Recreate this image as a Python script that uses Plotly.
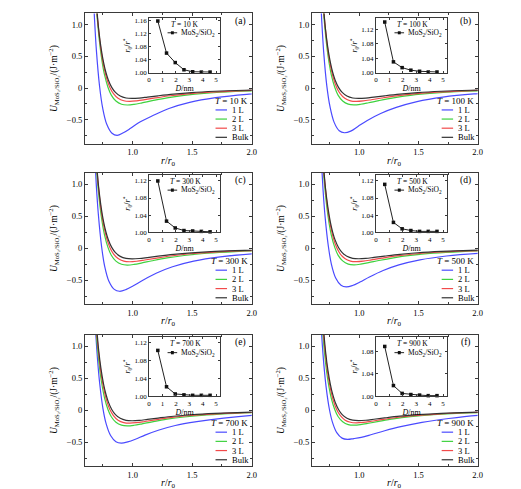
import plotly.graph_objects as go

W, H = 521, 489
FONT = "Liberation Serif"

TEMPS = [10, 100, 300, 500, 700, 900]
PANEL_LABELS = ["(a)", "(b)", "(c)", "(d)", "(e)", "(f)"]
LAYER_NAMES = ["1 L", "2 L", "3 L", "Bulk"]
LAYER_COLORS = ["#4a4aff", "#3fd23f", "#f24a4a", "#333333"]

# ---- main curves: U (J/m^2) versus r/r0 ----
X_1L = [
    [0.644, 0.661, 0.679, 0.696, 0.722, 0.748, 0.783, 0.827, 0.870, 0.922, 0.983, 1.061, 1.175, 1.305, 1.479, 1.697, 1.958, 2.262],
    [0.648, 0.665, 0.683, 0.700, 0.726, 0.753, 0.788, 0.831, 0.875, 0.928, 0.989, 1.068, 1.181, 1.313, 1.488, 1.706, 1.969, 2.275],
    [0.659, 0.676, 0.694, 0.712, 0.739, 0.765, 0.801, 0.846, 0.890, 0.943, 1.006, 1.086, 1.202, 1.335, 1.513, 1.736, 2.003, 2.314],
    [0.659, 0.676, 0.694, 0.712, 0.739, 0.765, 0.801, 0.846, 0.890, 0.943, 1.006, 1.086, 1.202, 1.335, 1.513, 1.736, 2.003, 2.314],
    [0.670, 0.688, 0.706, 0.724, 0.751, 0.778, 0.815, 0.860, 0.905, 0.959, 1.023, 1.104, 1.222, 1.358, 1.539, 1.765, 2.036, 2.353],
    [0.666, 0.684, 0.702, 0.720, 0.747, 0.774, 0.810, 0.855, 0.900, 0.954, 1.017, 1.098, 1.215, 1.350, 1.530, 1.755, 2.025, 2.340],
]
Y_1L = [
    [2.838, 1.855, 1.131, 0.593, 0.038, -0.309, -0.571, -0.712, -0.745, -0.705, -0.635, -0.535, -0.429, -0.321, -0.224, -0.150, -0.098, -0.063],
    [2.686, 1.755, 1.070, 0.561, 0.036, -0.293, -0.541, -0.674, -0.705, -0.679, -0.605, -0.510, -0.400, -0.304, -0.212, -0.142, -0.092, -0.060],
    [2.572, 1.681, 1.025, 0.537, 0.034, -0.280, -0.518, -0.645, -0.675, -0.650, -0.589, -0.502, -0.389, -0.291, -0.203, -0.136, -0.088, -0.057],
    [2.313, 1.511, 0.921, 0.483, 0.031, -0.252, -0.466, -0.580, -0.607, -0.585, -0.530, -0.451, -0.350, -0.262, -0.183, -0.122, -0.080, -0.052],
    [1.966, 1.285, 0.783, 0.411, 0.026, -0.214, -0.396, -0.493, -0.516, -0.497, -0.455, -0.390, -0.310, -0.240, -0.180, -0.125, -0.078, -0.050],
    [1.745, 1.140, 0.695, 0.365, 0.023, -0.190, -0.351, -0.438, -0.458, -0.445, -0.425, -0.385, -0.322, -0.258, -0.190, -0.130, -0.078, -0.050],
]
X_2L = [0.669, 0.688, 0.707, 0.726, 0.745, 0.764, 0.793, 0.821, 0.860, 0.907, 0.955, 1.012, 1.079, 1.165, 1.289, 1.433, 1.624, 1.862, 2.149, 2.483]
Y_2L = [
    [2.133, 1.490, 1.013, 0.662, 0.404, 0.212, 0.014, -0.110, -0.204, -0.254, -0.266, -0.256, -0.232, -0.198, -0.153, -0.115, -0.080, -0.053, -0.035, -0.023],
    [2.125, 1.484, 1.010, 0.660, 0.402, 0.211, 0.014, -0.110, -0.203, -0.253, -0.265, -0.255, -0.231, -0.197, -0.153, -0.114, -0.080, -0.053, -0.035, -0.023],
    [2.117, 1.478, 1.006, 0.657, 0.401, 0.210, 0.013, -0.110, -0.202, -0.252, -0.264, -0.254, -0.230, -0.196, -0.152, -0.114, -0.079, -0.053, -0.035, -0.022],
    [2.085, 1.456, 0.991, 0.647, 0.395, 0.207, 0.013, -0.108, -0.199, -0.249, -0.260, -0.250, -0.227, -0.193, -0.150, -0.112, -0.078, -0.052, -0.034, -0.022],
    [1.965, 1.372, 0.933, 0.610, 0.372, 0.195, 0.012, -0.102, -0.188, -0.234, -0.245, -0.236, -0.214, -0.182, -0.141, -0.106, -0.074, -0.049, -0.032, -0.021],
    [1.885, 1.316, 0.895, 0.585, 0.357, 0.187, 0.012, -0.098, -0.180, -0.225, -0.235, -0.226, -0.205, -0.175, -0.135, -0.101, -0.071, -0.047, -0.031, -0.020],
]
X_3L = [0.683, 0.702, 0.722, 0.741, 0.761, 0.780, 0.809, 0.839, 0.878, 0.926, 0.975, 1.034, 1.102, 1.190, 1.316, 1.463, 1.658, 1.901, 2.194, 2.535]
Y_3L = [
    [1.668, 1.165, 0.792, 0.518, 0.316, 0.166, 0.011, -0.086, -0.160, -0.199, -0.208, -0.200, -0.182, -0.155, -0.120, -0.090, -0.063, -0.042, -0.027, -0.018],
    [1.684, 1.176, 0.800, 0.523, 0.319, 0.167, 0.011, -0.087, -0.161, -0.201, -0.210, -0.202, -0.183, -0.156, -0.121, -0.091, -0.063, -0.042, -0.028, -0.018],
    [1.700, 1.187, 0.808, 0.528, 0.322, 0.169, 0.011, -0.088, -0.163, -0.203, -0.212, -0.204, -0.185, -0.158, -0.122, -0.091, -0.064, -0.043, -0.028, -0.018],
    [1.684, 1.176, 0.800, 0.523, 0.319, 0.167, 0.011, -0.087, -0.161, -0.201, -0.210, -0.202, -0.183, -0.156, -0.121, -0.091, -0.063, -0.042, -0.028, -0.018],
    [1.628, 1.137, 0.773, 0.505, 0.308, 0.162, 0.010, -0.084, -0.156, -0.194, -0.203, -0.195, -0.177, -0.151, -0.117, -0.087, -0.061, -0.041, -0.027, -0.017],
    [1.588, 1.109, 0.754, 0.493, 0.301, 0.158, 0.010, -0.082, -0.152, -0.189, -0.198, -0.191, -0.173, -0.147, -0.114, -0.085, -0.060, -0.040, -0.026, -0.017],
]
X_BULK = [0.697, 0.716, 0.736, 0.756, 0.776, 0.796, 0.826, 0.856, 0.896, 0.945, 0.995, 1.055, 1.124, 1.214, 1.343, 1.493, 1.692, 1.940, 2.239, 2.587]
Y_BULK = [
    [1.307, 0.913, 0.621, 0.406, 0.247, 0.130, 0.008, -0.068, -0.125, -0.156, -0.163, -0.157, -0.142, -0.121, -0.094, -0.070, -0.049, -0.033, -0.021, -0.014],
    [1.307, 0.913, 0.621, 0.406, 0.247, 0.130, 0.008, -0.068, -0.125, -0.156, -0.163, -0.157, -0.142, -0.121, -0.094, -0.070, -0.049, -0.033, -0.021, -0.014],
    [1.339, 0.935, 0.636, 0.416, 0.254, 0.133, 0.009, -0.069, -0.128, -0.160, -0.167, -0.161, -0.146, -0.124, -0.096, -0.072, -0.050, -0.034, -0.022, -0.014],
    [1.323, 0.924, 0.629, 0.411, 0.250, 0.131, 0.008, -0.068, -0.127, -0.158, -0.165, -0.159, -0.144, -0.123, -0.095, -0.071, -0.050, -0.033, -0.022, -0.014],
    [1.323, 0.924, 0.629, 0.411, 0.250, 0.131, 0.008, -0.068, -0.127, -0.158, -0.165, -0.159, -0.144, -0.123, -0.095, -0.071, -0.050, -0.033, -0.022, -0.014],
    [1.307, 0.913, 0.621, 0.406, 0.247, 0.130, 0.008, -0.068, -0.125, -0.156, -0.163, -0.157, -0.142, -0.121, -0.094, -0.070, -0.049, -0.033, -0.021, -0.014],
]

# ---- insets: r0/r* versus D (nm) ----
D_NM = [0.65, 1.30, 1.95, 2.60, 3.25, 3.90, 4.55]
R_RATIO = [
    [1.158, 1.060, 1.031, 1.009, 1.003, 1.002, 1.002],
    [1.140, 1.030, 1.014, 1.007, 1.004, 1.002, 1.002],
    [1.120, 1.026, 1.010, 1.004, 1.003, 1.002, 1.001],
    [1.112, 1.023, 1.008, 1.004, 1.002, 1.002, 1.002],
    [1.102, 1.021, 1.005, 1.003, 1.002, 1.002, 1.002],
    [1.089, 1.019, 1.005, 1.003, 1.002, 1.001, 1.001],
]
INSET_YMAX = [1.166, 1.150, 1.134, 1.134, 1.132, 1.106]
INSET_YTICKS = [
    [1.00, 1.04, 1.08, 1.12, 1.16],
    [1.00, 1.04, 1.08, 1.12],
    [1.00, 1.04, 1.08, 1.12],
    [1.00, 1.04, 1.08, 1.12],
    [1.00, 1.04, 1.08, 1.12],
    [1.00, 1.04, 1.08],
]
MAIN_XTICKS = [1.0, 1.5, 2.0]
MAIN_XTEXT = ["1.0", "1.5", "2.0"]
MAIN_YTICKS = [-0.5, 0.0, 0.5, 1.0]
MAIN_YTEXT = ["\u22120.5", "0", "0.5", "1.0"]
INSET_XTICKS = [0, 1, 2, 3, 4, 5]

X_TITLE = "<i>r</i>/<i>r</i><sub>0</sub>"
Y_TITLE = "<i>U</i><sub>MoS\u2082/SiO\u2082</sub>/(J\u00b7m<sup>\u22122</sup>)"

# ---- layout geometry (pixels) ----
COL_X = [(76, 245), (306, 474)]
ROW_Y = [(3.5, 135.5), (165, 298), (329, 462)]
INSET_X = [(141, 213), (371, 443)]
INSET_Y = [(8.5, 63.5), (167, 225), (331, 391)]

def xdom(a, b):
    return [a / W, b / W]

def ydom(a, b):
    return [1 - b / H, 1 - a / H]

fig = go.Figure()
layout = dict(
    width=W, height=H, margin=dict(l=0, r=0, t=0, b=0),
    paper_bgcolor="white", plot_bgcolor="white", showlegend=False,
    font=dict(family=FONT, color="black", size=9),
)
annotations = []
shapes = []
AX_LINE = "#3a3a3a"

for p in range(6):
    row, col = divmod(p, 2)
    mi = 2 * p + 1
    ii = 2 * p + 2
    mx = "x" if mi == 1 else f"x{mi}"
    my = "y" if mi == 1 else f"y{mi}"
    ix, iy = f"x{ii}", f"y{ii}"
    mxa = "xaxis" if mi == 1 else f"xaxis{mi}"
    mya = "yaxis" if mi == 1 else f"yaxis{mi}"

    layout[mxa] = dict(
        domain=xdom(*COL_X[col]), anchor=my, range=[0.6, 2.0],
        tickmode="array", tickvals=MAIN_XTICKS, ticktext=MAIN_XTEXT,
        ticks="inside", ticklen=3, tickcolor=AX_LINE,
        minor=dict(tick0=0, dtick=0.25, ticks="inside", ticklen=2, tickcolor=AX_LINE),
        showline=True, mirror="ticks", linecolor=AX_LINE, linewidth=1,
        showgrid=False, zeroline=False, tickfont=dict(size=8.5),
    )
    layout[mya] = dict(
        domain=ydom(*ROW_Y[row]), anchor=mx, range=[-0.88, 1.18],
        tickmode="array", tickvals=MAIN_YTICKS, ticktext=MAIN_YTEXT,
        ticks="inside", ticklen=3, tickcolor=AX_LINE,
        minor=dict(tick0=0, dtick=0.25, ticks="inside", ticklen=2, tickcolor=AX_LINE),
        showline=True, mirror="ticks", linecolor=AX_LINE, linewidth=1,
        showgrid=False, zeroline=False, tickfont=dict(size=8.5),
    )
    layout[f"xaxis{ii}"] = dict(
        domain=xdom(*INSET_X[col]), anchor=iy, range=[0, 5.3],
        tickmode="array", tickvals=INSET_XTICKS,
        ticks="inside", ticklen=2, tickcolor=AX_LINE,
        showline=True, mirror="ticks", linecolor=AX_LINE, linewidth=1,
        showgrid=False, zeroline=False, tickfont=dict(size=7),
        title=dict(text="<i>D</i>/nm", font=dict(size=8), standoff=0),
    )
    layout[f"yaxis{ii}"] = dict(
        domain=ydom(*INSET_Y[row]), anchor=ix, range=[1.0, INSET_YMAX[p]],
        tickmode="array", tickvals=INSET_YTICKS[p],
        ticktext=[f"{v:.2f}" for v in INSET_YTICKS[p]],
        ticks="inside", ticklen=2, tickcolor=AX_LINE,
        showline=True, mirror="ticks", linecolor=AX_LINE, linewidth=1,
        showgrid=False, zeroline=False, tickfont=dict(size=7),
        title=dict(text="<i>r</i><sub>0</sub>/<i>r</i><sup>*</sup>", font=dict(size=8), standoff=2),
    )

    series = [
        (X_1L[p], Y_1L[p]),
        (X_2L, Y_2L[p]),
        (X_3L, Y_3L[p]),
        (X_BULK, Y_BULK[p]),
    ]
    for k, (xs, ys) in enumerate(series):
        fig.add_trace(go.Scatter(
            x=xs, y=ys, mode="lines", xaxis=mx, yaxis=my,
            line=dict(color=LAYER_COLORS[k], width=1.2, shape="spline", smoothing=1.0),
            name=LAYER_NAMES[k], hoverinfo="skip",
        ))
    fig.add_trace(go.Scatter(
        x=D_NM, y=R_RATIO[p], mode="lines+markers", xaxis=ix, yaxis=iy,
        line=dict(color="#222222", width=1),
        marker=dict(symbol="square", size=3.5, color="#111111"),
        cliponaxis=False, name="MoS2/SiO2", hoverinfo="skip",
    ))

    mxd, myd = f"{mx} domain", f"{my} domain"
    ixd, iyd = f"{ix} domain", f"{iy} domain"
    row_h = ROW_Y[row][1] - ROW_Y[row][0]

    # axis titles of the main panels
    annotations.append(dict(xref=mxd, yref=myd, x=0.5, y=-17.5 / row_h, xanchor="center", yanchor="middle",
                            text=X_TITLE, showarrow=False, font=dict(size=10)))
    annotations.append(dict(xref="paper", yref=myd, x=(COL_X[col][0] - 32) / W, y=0.5,
                            xanchor="center", yanchor="middle", textangle=-90,
                            text=Y_TITLE, showarrow=False, font=dict(size=9.5)))
    # panel label
    annotations.append(dict(xref=mxd, yref=myd, x=0.975, y=0.94, xanchor="right", yanchor="middle",
                            text=PANEL_LABELS[p], showarrow=False, font=dict(size=9.5)))
    # main legend
    annotations.append(dict(xref=mxd, yref=myd, x=0.99, y=0.33, xanchor="right", yanchor="middle",
                            text=f"<i>T</i> = {TEMPS[p]} K", showarrow=False, font=dict(size=9)))
    leg_y = [0.26, 0.19, 0.12, 0.05]
    for k in range(4):
        shapes.append(dict(type="line", xref=mxd, yref=myd, x0=0.783, x1=0.852,
                           y0=leg_y[k], y1=leg_y[k], line=dict(color=LAYER_COLORS[k], width=1.2)))
        annotations.append(dict(xref=mxd, yref=myd, x=0.872, y=leg_y[k], xanchor="left", yanchor="middle",
                                text=LAYER_NAMES[k], showarrow=False, font=dict(size=8.5)))
    # inset legend
    annotations.append(dict(xref=ixd, yref=iyd, x=0.51, y=0.885, xanchor="center", yanchor="middle",
                            text=f"<i>T</i> = {TEMPS[p]} K", showarrow=False, font=dict(size=7.5)))
    shapes.append(dict(type="line", xref=ixd, yref=iyd, x0=0.26, x1=0.395, y0=0.735, y1=0.735,
                       line=dict(color="#222222", width=1)))
    shapes.append(dict(type="rect", xref=ixd, yref=iyd, x0=0.307, x1=0.348, y0=0.707, y1=0.763,
                       line=dict(width=0), fillcolor="#111111"))
    annotations.append(dict(xref=ixd, yref=iyd, x=0.42, y=0.735, xanchor="left", yanchor="middle",
                            text="MoS<sub>2</sub>/SiO<sub>2</sub>", showarrow=False, font=dict(size=7.5)))

layout["annotations"] = annotations
layout["shapes"] = shapes
fig.update_layout(**layout)
fig.write_html("out.html")
